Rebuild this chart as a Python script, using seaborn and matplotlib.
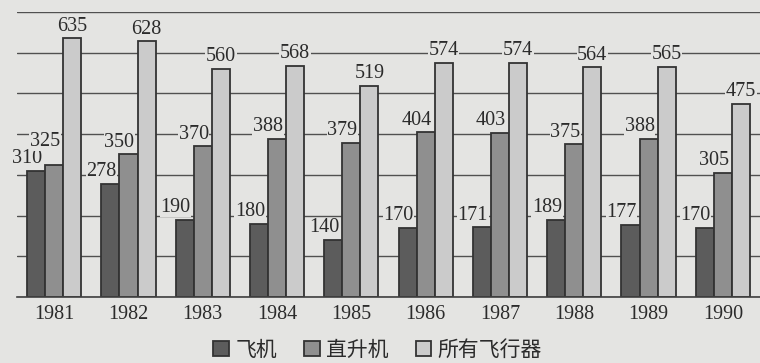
import matplotlib
matplotlib.use("Agg")
import matplotlib.pyplot as plt
import seaborn as sns
import pandas as pd
from matplotlib.patches import Patch

years = ["1981", "1982", "1983", "1984", "1985", "1986", "1987", "1988", "1989", "1990"]
series_names = ["飞机", "直升机", "所有飞行器"]
plane = [310, 278, 190, 180, 140, 170, 171, 189, 177, 170]
heli = [325, 350, 370, 388, 379, 404, 403, 375, 388, 305]
all_craft = [635, 628, 560, 568, 519, 574, 574, 564, 565, 475]

bg = "#e4e4e2"
colors = ["#5c5c5c", "#8f8f8f", "#cbcbcb"]
edge = "#333333"
text_c = "#2b2b2b"

sns.set_theme(style="white")
plt.rcParams["font.family"] = ["Liberation Serif", "Noto Sans CJK SC", "DejaVu Sans"]

df = pd.DataFrame({
    "year": years * 3,
    "series": [series_names[0]] * 10 + [series_names[1]] * 10 + [series_names[2]] * 10,
    "value": plane + heli + all_craft,
})

fig = plt.figure(figsize=(7.6, 3.63), dpi=100, facecolor=bg)
ax = fig.add_axes([0.0224, 0.182, 0.9776, 0.785])
ax.set_facecolor(bg)

sns.barplot(data=df, x="year", y="value", hue="series", hue_order=series_names,
            palette=colors, width=0.73, dodge=True, ax=ax, legend=False,
            edgecolor=edge, linewidth=1.3, saturation=1)

ax.set_ylim(0, 700)
ax.set_xlim(-0.5, 9.5)
ax.set_yticks(range(0, 701, 100))
ax.yaxis.grid(True, color="#505050", linewidth=1.0)
ax.set_axisbelow(True)
ax.set_yticklabels([])
ax.tick_params(axis="y", length=0)
ax.tick_params(axis="x", length=0, pad=6, labelsize=14.5, labelcolor=text_c)
ax.set_xlabel("")
ax.set_ylabel("")
for s in ["left", "right", "top"]:
    ax.spines[s].set_visible(False)
ax.spines["bottom"].set_color("#404040")
ax.spines["bottom"].set_linewidth(1.2)

series_vals = [plane, heli, all_craft]
for si, cont in enumerate(ax.containers):
    for gi, bar in enumerate(cont):
        h = bar.get_height()
        if si < 2:
            x = bar.get_x()
        else:
            x = bar.get_x() + bar.get_width() / 2
        dy = 2
        if si == 1 and h - series_vals[0][gi] < 40:
            dy = 10
        ax.annotate(f"{int(round(h))}", (x, h), xytext=(0, dy), textcoords="offset points",
                    ha="center", va="bottom", fontsize=14.5, color=text_c,
                    bbox=dict(facecolor=bg, edgecolor="none", pad=0.5), zorder=5,
                    annotation_clip=False)

handles = [Patch(facecolor=c, edgecolor=edge, linewidth=1.3) for c in colors]
fig.legend(handles, series_names, loc="lower center", bbox_to_anchor=(0.497, -0.045), ncol=3,
           frameon=False, handlelength=0.75, handleheight=0.75, handletextpad=0.3,
           columnspacing=1.3, prop={"family": ["Noto Sans CJK SC", "DejaVu Sans"], "size": 15},
           labelcolor=text_c)

fig.savefig("out.png", dpi=100, facecolor=bg)
